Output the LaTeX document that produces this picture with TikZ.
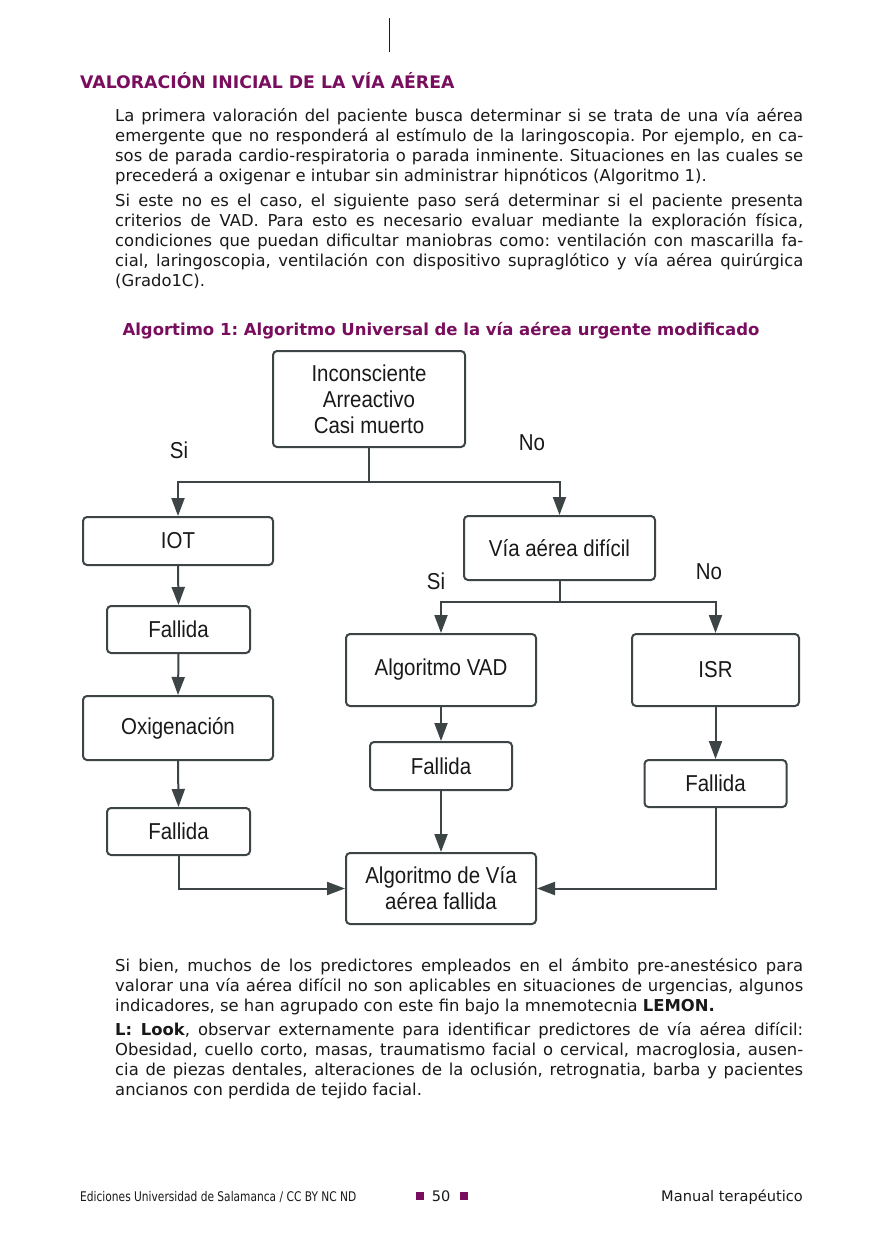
\documentclass[tikz,border=0pt]{standalone}
\usepackage{fontspec}
\setmainfont{DejaVu Sans}
\newfontfamily\diagf[FakeStretch=0.89]{Liberation Sans}
\newfontfamily\bodyf{DejaVu Sans}
\newfontfamily\footf[FakeStretch=0.8]{DejaVu Sans}
\usetikzlibrary{arrows.meta}
\definecolor{purp}{RGB}{122,14,94}
\definecolor{boxc}{RGB}{60,68,70}
\definecolor{txt}{RGB}{25,25,25}
\frenchspacing
\newcommand{\jline}[1]{\makebox[688pt][s]{#1}\\}
\begin{document}
\begin{tikzpicture}[x=1pt,y=-1pt,
  box/.style={draw=boxc, line width=2pt, rounded corners=4pt, inner sep=2pt, align=center,
    text=txt, font=\diagf\fontsize{23}{26}\selectfont},
  arr/.style={draw=boxc, line width=2pt, -{Triangle[length=18pt,width=13pt]}},
  lbl/.style={text=txt, font=\diagf\fontsize{23}{26}\selectfont, inner sep=0pt},
  para/.style={anchor=base west, inner sep=0pt, text=txt,
    font=\bodyf\fontsize{16.4}{20}\selectfont},
]
\fill[white] (0,0) rectangle (874,1240);
\useasboundingbox (0,0) rectangle (874,1240);

% header mark
\draw[purp!50!black, line width=0.8pt] (389,18) -- (389,52);

% title
\node[anchor=base west, inner sep=0pt, text=purp, font=\bfseries\fontsize{17.3}{20}\selectfont] (title) at (80,88) {VALORACIÓN INICIAL DE LA VÍA AÉREA};

% paragraphs
\node[para] (p1) at (115,121) {\parbox[t]{688pt}{%
\jline{La primera valoración del paciente busca determinar si se trata de una vía aérea}
\jline{emergente que no responderá al estímulo de la laringoscopia. Por ejemplo, en ca-}
\jline{sos de parada cardio-respiratoria o parada inminente. Situaciones en las cuales se}
precederá a oxigenar e intubar sin administrar hipnóticos (Algoritmo 1).}};

\node[para] (p2) at (115,206) {\parbox[t]{688pt}{%
\jline{Si este no es el caso, el siguiente paso será determinar si el paciente presenta}
\jline{criterios de VAD. Para esto es necesario evaluar mediante la exploración física,}
\jline{condiciones que puedan dificultar maniobras como: ventilación con mascarilla fa-}
\jline{cial, laringoscopia, ventilación con dispositivo supraglótico y vía aérea quirúrgica}
(Grado1C).}};

% caption
\node[anchor=base, inner sep=0pt, text=purp, font=\bfseries\fontsize{16.5}{20}\selectfont] (cap) at (441,335) {Algortimo 1: Algoritmo Universal de la vía aérea urgente modificado};

% boxes
\node[box, minimum width=192pt, minimum height=96pt] (inc) at (369,399) {Inconsciente\\Arreactivo\\Casi muerto};
\node[box, minimum width=190pt, minimum height=48pt] (iot) at (178,541) {IOT};
\node[box, minimum width=191pt, minimum height=64pt] (via) at (559.5,548) {Vía aérea difícil};
\node[box, minimum width=143pt, minimum height=47pt] (f1) at (178.5,629.5) {Fallida};
\node[box, minimum width=190pt, minimum height=64pt] (oxi) at (178,728) {Oxigenación};
\node[box, minimum width=143pt, minimum height=47pt] (f2) at (178.5,831.5) {Fallida};
\node[box, minimum width=190pt, minimum height=72pt] (vad) at (441,670) {Algoritmo VAD};
\node[box, minimum width=167pt, minimum height=72pt] (isr) at (715.5,670) {ISR};
\node[box, minimum width=142pt, minimum height=48pt] (f3) at (441,766) {Fallida};
\node[box, minimum width=142pt, minimum height=47pt] (f4) at (715.5,783.5) {Fallida};
\node[box, minimum width=190pt, minimum height=71pt] (fin) at (441,888.5) {Algoritmo de Vía\\aérea fallida};

% labels
\node[lbl] (si1) at (179,450) {Si};
\node[lbl] (no1) at (532,443) {No};
\node[lbl] (si2) at (436,581) {Si};
\node[lbl] (no2) at (709,572) {No};

% junctions
\coordinate (j1) at (369,482);
\coordinate (j2) at (559.5,602);

% connectors
\draw[arr] (inc.south) -- (j1) -| (iot.north);
\draw[arr] (j1) -| (via.north);
\draw[arr] (via.south) -- (j2) -| (vad.north);
\draw[arr] (j2) -| (isr.north);
\draw[arr] (iot.south) -- (f1.north);
\draw[arr] (f1.south) -- (oxi.north);
\draw[arr] (oxi.south) -- (f2.north);
\draw[arr] (vad.south) -- (f3.north);
\draw[arr] (f3.south) -- (fin.north);
\draw[arr] (isr.south) -- (f4.north);
\draw[arr] (f2.south) |- (fin.west);
\draw[arr] (f4.south) |- (fin.east);

% lower paragraphs
\node[para] (p3) at (115,971) {\parbox[t]{688pt}{%
\jline{Si bien, muchos de los predictores empleados en el ámbito pre-anestésico para}
\jline{valorar una vía aérea difícil no son aplicables en situaciones de urgencias, algunos}
indicadores, se han agrupado con este fin bajo la mnemotecnia \textbf{LEMON.}}};

\node[para] (p4) at (115,1035) {\parbox[t]{688pt}{%
\jline{\textbf{L: Look}, observar externamente para identificar predictores de vía aérea difícil:}
\jline{Obesidad, cuello corto, masas, traumatismo facial o cervical, macroglosia, ausen-}
\jline{cia de piezas dentales, alteraciones de la oclusión, retrognatia, barba y pacientes}
ancianos con perdida de tejido facial.}};

% footer
\node[anchor=base west, inner sep=0pt, text=txt, font=\footf\fontsize{13.3}{15}\selectfont] (fl) at (80,1201) {Ediciones Universidad de Salamanca / CC BY NC ND};
\node[anchor=base, inner sep=0pt, text=txt, font=\bodyf\fontsize{14.5}{16}\selectfont] (fc) at (441,1201) {50};
\node[fill=purp, minimum size=8.5pt, inner sep=0pt] (sq1) at (420,1196) {};
\node[fill=purp, minimum size=8.5pt, inner sep=0pt] (sq2) at (464,1196) {};
\node[anchor=base east, inner sep=0pt, text=txt, font=\bodyf\fontsize{14.6}{18}\selectfont] (fr) at (803,1201) {Manual terapéutico};
\end{tikzpicture}
\end{document}
